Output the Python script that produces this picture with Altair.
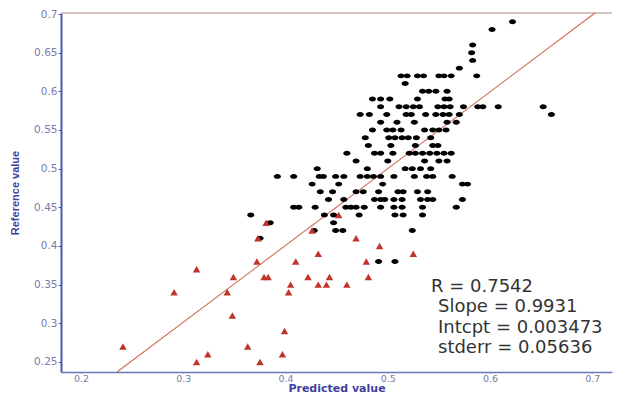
import altair as alt
import pandas as pd

# ---- data ----
# black dots: reference-value rows and the predicted values found in each row
black_levels = [0.69, 0.68, 0.66, 0.65, 0.64, 0.63, 0.62, 0.61, 0.60, 0.59, 0.58, 0.57,
                0.56, 0.55, 0.54, 0.53, 0.52, 0.51, 0.50, 0.49, 0.48, 0.47, 0.46, 0.45,
                0.44, 0.43, 0.42, 0.41, 0.38]
black_preds = [
    [0.622],
    [0.602],
    [0.583],
    [0.582],
    [0.583],
    [0.570],
    [0.513, 0.519, 0.529, 0.535, 0.550, 0.555, 0.562, 0.587],
    [0.517],
    [0.534, 0.540, 0.547, 0.558],
    [0.485, 0.493, 0.502, 0.529, 0.556, 0.560],
    [0.493, 0.511, 0.518, 0.525, 0.531, 0.549, 0.555, 0.561, 0.574, 0.588, 0.593, 0.608, 0.652],
    [0.473, 0.482, 0.499, 0.518, 0.523, 0.537, 0.547, 0.554, 0.560, 0.570, 0.660],
    [0.493, 0.509, 0.526, 0.558, 0.567],
    [0.485, 0.499, 0.505, 0.513, 0.536, 0.544, 0.550, 0.557],
    [0.478, 0.501, 0.507, 0.514, 0.520, 0.528, 0.542],
    [0.481, 0.503, 0.527, 0.544, 0.549],
    [0.460, 0.487, 0.493, 0.505, 0.521, 0.527, 0.534, 0.541, 0.548, 0.555, 0.562],
    [0.469, 0.500, 0.536, 0.550, 0.558],
    [0.431, 0.480, 0.517, 0.524, 0.532, 0.542],
    [0.392, 0.408, 0.433, 0.437, 0.449, 0.457, 0.473, 0.480, 0.486, 0.493, 0.506, 0.526, 0.538, 0.544, 0.563],
    [0.426, 0.452, 0.495, 0.573, 0.578],
    [0.434, 0.446, 0.469, 0.476, 0.491, 0.510, 0.515, 0.529, 0.539],
    [0.442, 0.457, 0.487, 0.493, 0.497, 0.506, 0.514, 0.532, 0.539, 0.544, 0.573],
    [0.408, 0.413, 0.429, 0.459, 0.464, 0.469, 0.477, 0.493, 0.506, 0.514, 0.534, 0.567],
    [0.366, 0.438, 0.447, 0.472, 0.507, 0.515, 0.534],
    [0.385, 0.447],
    [0.428, 0.449, 0.456, 0.524],
    [0.375],
    [0.491, 0.507],
]

# red triangles
red_pred = [0.241, 0.291, 0.313, 0.313, 0.324, 0.343, 0.348, 0.349, 0.363, 0.372,
            0.373, 0.375, 0.379, 0.383, 0.381, 0.397, 0.399, 0.403, 0.405, 0.410,
            0.422, 0.426, 0.432, 0.432, 0.440, 0.443, 0.460, 0.469, 0.479, 0.481,
            0.492, 0.525, 0.452]
red_ref = [0.27, 0.34, 0.37, 0.25, 0.26, 0.34, 0.31, 0.36, 0.27, 0.38,
           0.41, 0.25, 0.36, 0.36, 0.43, 0.26, 0.29, 0.34, 0.35, 0.38,
           0.36, 0.42, 0.39, 0.35, 0.35, 0.36, 0.35, 0.41, 0.38, 0.36,
           0.40, 0.39, 0.44]

# regression statistics
slope = 0.9931
intercept = 0.003473
stats_lines = ["R = 0.7542", "Slope = 0.9931", "Intcpt = 0.003473", "stderr = 0.05636"]

x_ticks = [0.2, 0.3, 0.4, 0.5, 0.6, 0.7]
y_ticks = [0.25, 0.3, 0.35, 0.4, 0.45, 0.5, 0.55, 0.6, 0.65, 0.7]
x_domain = [0.1804, 0.7193]
y_domain = [0.237, 0.7013]

# ---- tables ----
bp, br = [], []
for lvl, preds in zip(black_levels, black_preds):
    for p in preds:
        bp.append(p)
        br.append(lvl)
black_df = pd.DataFrame({"pred": bp, "ref": br})
red_df = pd.DataFrame({"pred": red_pred, "ref": red_ref})
line_df = pd.DataFrame({
    "pred": [(y_domain[0] - intercept) / slope, (y_domain[1] - intercept) / slope],
})
line_df["ref"] = slope * line_df["pred"] + intercept
one_row = pd.DataFrame({"k": [0]})

W, H = 551, 359

xenc = alt.X(
    "pred:Q",
    scale=alt.Scale(domain=x_domain, nice=False, zero=False),
    axis=alt.Axis(
        values=x_ticks, format=".1f", grid=False, labelFlush=False, labelOverlap=False,
        domainColor="#6a78b8", domainWidth=1.5, tickColor="#6a78b8", tickSize=1,
        labelPadding=0, labelColor="#7a7aa6", labelFont="DejaVu Sans", labelFontSize=9.5,
        titleFont="DejaVu Sans", titleFontWeight="bold", titleFontSize=11,
        titleColor="#3f3fa0", titleY=19, titleBaseline="alphabetic",
    ),
    title="Predicted value",
)
yenc = alt.Y(
    "ref:Q",
    scale=alt.Scale(domain=y_domain, nice=False, zero=False),
    axis=alt.Axis(
        values=y_ticks, format=".2~f", grid=False, labelFlush=False, labelOverlap=False,
        domainColor="#4b5aa8", domainWidth=2, tickColor="#4b5aa8", tickSize=3,
        labelPadding=1, labelColor="#7a7aa6", labelFont="DejaVu Sans", labelFontSize=10.5,
        titleFont="Liberation Sans", titleFontWeight="bold", titleFontSize=11,
        titleColor="#3f3fa0", titleX=-46, titleY=H / 2, titleAngle=270,
        titleAlign="center", titleBaseline="middle",
    ),
    title="Reference value",
)

top_border = alt.Chart(one_row).mark_rule(color="#cbb0a8", strokeWidth=1.5).encode(
    x=alt.value(0), x2=alt.value(W), y=alt.value(0)
)

reg_line = alt.Chart(line_df).mark_line(color="#d4685a", strokeWidth=1.1).encode(x=xenc, y=yenc)

ellipse = "M-1,0A1,0.7,0,1,0,1,0A1,0.7,0,1,0,-1,0Z"
black_pts = alt.Chart(black_df).mark_point(
    shape=ellipse, filled=True, color="#000000", opacity=1, size=50
).encode(x=xenc, y=yenc)

red_pts = alt.Chart(red_df).mark_point(
    shape="triangle-up", filled=True, color="#c0342c", opacity=1, size=56
).encode(x=xenc, y=yenc)

txt_style = dict(align="left", baseline="middle", fontSize=18, font="DejaVu Sans", color="#333333")
t0 = alt.Chart(one_row).mark_text(text=stats_lines[0], **txt_style).encode(x=alt.value(370), y=alt.value(274))
t1 = alt.Chart(one_row).mark_text(text=stats_lines[1], **txt_style).encode(x=alt.value(377), y=alt.value(294))
t2 = alt.Chart(one_row).mark_text(text=stats_lines[2], **txt_style).encode(x=alt.value(377), y=alt.value(315))
t3 = alt.Chart(one_row).mark_text(text=stats_lines[3], **txt_style).encode(x=alt.value(377), y=alt.value(335))

chart = alt.layer(top_border, reg_line, black_pts, red_pts, t0, t1, t2, t3).properties(
    width=W, height=H,
    autosize=alt.AutoSizeParams(type="none"),
    padding={"left": 61, "top": 13, "right": 7, "bottom": 21},
    background="white",
).configure_view(stroke=None)

chart.save("out.html", embed_options={"renderer": "svg", "actions": False})
